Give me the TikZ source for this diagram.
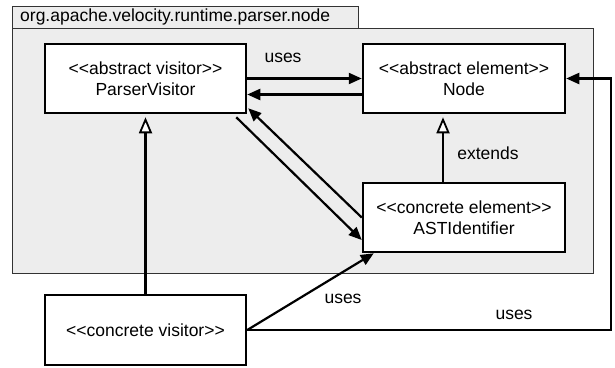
\documentclass[tikz,border=0pt]{standalone}
\usepackage{fontspec}
\setmainfont{Liberation Sans}[Ligatures=TeXOff]
\usetikzlibrary{arrows.meta,calc}
\begin{document}
\begin{tikzpicture}[x=1pt,y=-1pt,
  every node/.style={font=\fontsize{17.5}{21}\selectfont},
  cls/.style={draw=black,fill=white,line width=2.5pt,align=center,inner sep=0pt},
  conn/.style={line width=2.2pt,-{Triangle[length=13pt,width=11pt]}},
  inh/.style={line width=2.2pt,-{Triangle[open,fill=white,length=16pt,width=13pt,line width=1.8pt]},shorten >=3pt},
  lbl/.style={inner sep=0pt}]
\useasboundingbox (0,0) rectangle (615,367);
% package
\draw[fill=black!7,draw=black!80,line width=1pt] (12,28) rectangle (593,273);
\draw[fill=black!7,draw=black!80,line width=1pt] (12,6) rectangle (358,28);
\node[lbl,anchor=west] (pkg) at (20,17) {org.apache.velocity.runtime.parser.node};
% classes
\node[cls,minimum width=201pt,minimum height=69pt] (PV) at (145.5,78.5) {<<abstract visitor>>\\ParserVisitor};
\node[cls,minimum width=202pt,minimum height=69pt] (N) at (464,78.5) {<<abstract element>>\\Node};
\node[cls,minimum width=202pt,minimum height=69pt] (AST) at (464,217.5) {<<concrete element>>\\ASTIdentifier};
\node[cls,minimum width=201pt,minimum height=70pt] (CV) at (145.5,330) {<<concrete visitor>>};
% connectors
\draw[conn] (PV.east) -- (N.west);
\draw[conn] ($(N.west)+(0,16)$) -- ($(PV.east)+(0,16)$);
\draw[conn] ($(PV.south east)+(-11,3)$) -- ($(AST.west)+(0,22.5)$);
\draw[conn] (AST.west) -- ($(PV.south east)+(1,-6)$);
\draw[inh] (CV.north) -- (PV.south);
\draw[inh] ($(AST.north)+(-21,0)$) -- ($(N.south)+(-21,0)$);
\draw[conn] (CV.east) -- ($(AST.south west)+(12,0)$);
\draw[conn] (CV.east) -- ++(364,0) coordinate (bend) |- (N.east);
% labels
\node[lbl] (l1) at (283,58) {uses};
\node[lbl] (l2) at (488,153) {extends};
\node[lbl] (l3) at (343,299) {uses};
\node[lbl] (l4) at (514,315) {uses};
\end{tikzpicture}
\end{document}
